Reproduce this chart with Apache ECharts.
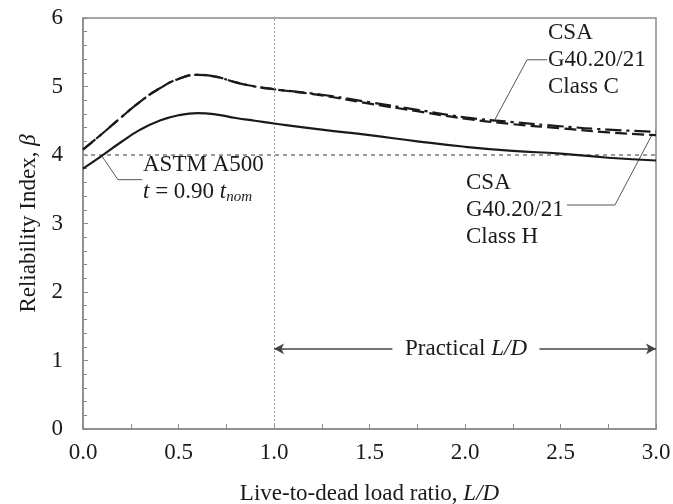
<!DOCTYPE html>
<html>
<head>
<meta charset="utf-8">
<script src="https://cdn.jsdelivr.net/npm/echarts@6/dist/echarts.min.js"></script>
<style>
  html, body { margin: 0; padding: 0; background: #fff; }
  #chart { width: 673px; height: 504px; }
</style>
</head>
<body>
<div id="chart"></div>
<script>
// 图表数据
const ratios = [0, 0.1, 0.2, 0.3, 0.4, 0.5, 0.6, 0.7, 0.8, 0.9, 1.0, 1.25, 1.5, 1.75, 2.0, 2.25, 2.5, 2.75, 3.0];
const classC = [4.08, 4.31, 4.55, 4.78, 4.97, 5.11, 5.17, 5.14, 5.06, 5.00, 4.96, 4.88, 4.77, 4.66, 4.55, 4.48, 4.42, 4.37, 4.34];
const classH = [4.08, 4.31, 4.55, 4.78, 4.97, 5.11, 5.17, 5.14, 5.06, 5.00, 4.96, 4.87, 4.75, 4.64, 4.53, 4.45, 4.39, 4.33, 4.29];
const astm = [3.80, 3.99, 4.19, 4.37, 4.50, 4.58, 4.61, 4.59, 4.54, 4.50, 4.46, 4.37, 4.29, 4.20, 4.12, 4.06, 4.02, 3.96, 3.92];
const xTicks = ['0.0', '0.5', '1.0', '1.5', '2.0', '2.5', '3.0'];
const targetBeta = 4.0;
const practicalFrom = 1.0;

// 引线 (data coords)
const leaderAstm = [[0.1, 3.98], [0.183, 3.64], [0.31, 3.64]];
const leaderC = [[2.157, 4.52], [2.325, 5.39], [2.43, 5.39]];
const leaderH = [[2.98, 4.30], [2.785, 3.27], [2.534, 3.27]];

const FONT = '"Liberation Serif", "DejaVu Serif", serif';
const FS = 23;
const ink = '#1a1a1a';
const frame = '#8a8a8a';

const pair = (xs, ys) => xs.map((x, i) => [x, ys[i]]);

const textStyle = (extra) => Object.assign({
  fontFamily: FONT, fontSize: FS, fill: ink
}, extra || {});

const chart = echarts.init(document.getElementById('chart'));

const leader = (pts) => ({
  type: 'line', data: pts, symbol: 'none', silent: true,
  lineStyle: { color: '#555', width: 1 }, z: 1
});

const option = {
  animation: false,
  textStyle: { fontFamily: FONT },
  grid: {
    left: 83, right: 17, top: 18, bottom: 75,
    outerBoundsMode: 'none', containLabel: false,
    show: true, borderColor: frame, borderWidth: 1.5
  },
  xAxis: {
    type: 'value', min: 0, max: 3, interval: 0.5,
    name: 'Live-to-dead load ratio, {i|L/D}',
    nameLocation: 'middle', nameGap: 53,
    nameTextStyle: {
      fontFamily: FONT, fontSize: FS, color: ink,
      rich: { i: { fontFamily: FONT, fontSize: FS, fontStyle: 'italic', color: ink } }
    },
    axisLine: { lineStyle: { color: frame, width: 1.5 } },
    axisTick: { inside: true, length: 5, lineStyle: { color: frame } },
    minorTick: { show: true, splitNumber: 2, length: 5, lineStyle: { color: frame } },
    splitLine: { show: false },
    axisLabel: {
      margin: 12, fontFamily: FONT, fontSize: FS, color: ink,
      formatter: (v) => xTicks[Math.round(v / 0.5)]
    }
  },
  yAxis: {
    type: 'value', min: 0, max: 6, interval: 1,
    name: 'Reliability Index, {i|β}',
    nameLocation: 'middle', nameGap: 43,
    nameTextStyle: {
      fontFamily: FONT, fontSize: FS, color: ink,
      rich: { i: { fontFamily: FONT, fontSize: FS, fontStyle: 'italic', color: ink } }
    },
    axisLine: { show: true, lineStyle: { color: frame, width: 1.5 } },
    axisTick: { inside: true, length: 5, lineStyle: { color: frame } },
    minorTick: { show: true, splitNumber: 5, length: 4, lineStyle: { color: frame } },
    splitLine: { show: false },
    axisLabel: { margin: 20, fontFamily: FONT, fontSize: FS, color: ink }
  },
  series: [
    {
      name: 'ASTM A500', type: 'line', smooth: true, symbol: 'none',
      data: pair(ratios, astm),
      lineStyle: { color: ink, width: 2.2 }, z: 5,
      markLine: {
        silent: true, symbol: 'none', label: { show: false },
        data: [
          { yAxis: targetBeta, lineStyle: { color: '#9a9a9a', width: 2, type: [4, 4] } },
          { xAxis: practicalFrom, lineStyle: { color: '#9a9a9a', width: 1, type: [2, 2] } }
        ]
      }
    },
    {
      name: 'Class H', type: 'line', smooth: true, symbol: 'none',
      data: pair(ratios, classH),
      lineStyle: { color: ink, width: 2.2, type: [12, 5] }, z: 4
    },
    {
      name: 'Class C', type: 'line', smooth: true, symbol: 'none',
      data: pair(ratios, classC),
      lineStyle: { color: ink, width: 2.2, type: [16, 5, 3, 5] }, z: 4,
      markLine: {
        silent: true, symbol: ['none', 'arrow'], symbolSize: [8, 10],
        label: { show: false },
        lineStyle: { color: '#444', width: 1.5, type: 'solid' },
        data: [
          [{ coord: [1.62, 1.17] }, { coord: [1.0, 1.17] }],
          [{ coord: [2.39, 1.17] }, { coord: [3.0, 1.17] }]
        ]
      }
    },
    leader(leaderAstm),
    leader(leaderC),
    leader(leaderH)
  ],
  graphic: [
    { type: 'text', left: 548, top: 19, style: textStyle({ text: 'CSA\nG40.20/21\nClass C', lineHeight: 27 }) },
    { type: 'text', left: 466, top: 169, style: textStyle({ text: 'CSA\nG40.20/21\nClass H', lineHeight: 27 }) },
    {
      type: 'text', left: 143, top: 151,
      style: textStyle({
        text: 'ASTM A500\n{i|t} = 0.90 {i|t}{s|nom}', lineHeight: 27,
        rich: {
          i: { fontFamily: FONT, fontSize: FS, fontStyle: 'italic', fill: ink, lineHeight: 27 },
          s: { fontFamily: FONT, fontSize: 15, fontStyle: 'italic', fill: ink, verticalAlign: 'bottom', padding: [11, 0, 0, 0], lineHeight: 27 }
        }
      })
    },
    {
      type: 'text', left: 405, top: 337,
      style: textStyle({
        text: 'Practical {i|L/D}',
        rich: { i: { fontFamily: FONT, fontSize: FS, fontStyle: 'italic', fill: ink } }
      })
    }
  ]
};

chart.setOption(option);
</script>
</body>
</html>
